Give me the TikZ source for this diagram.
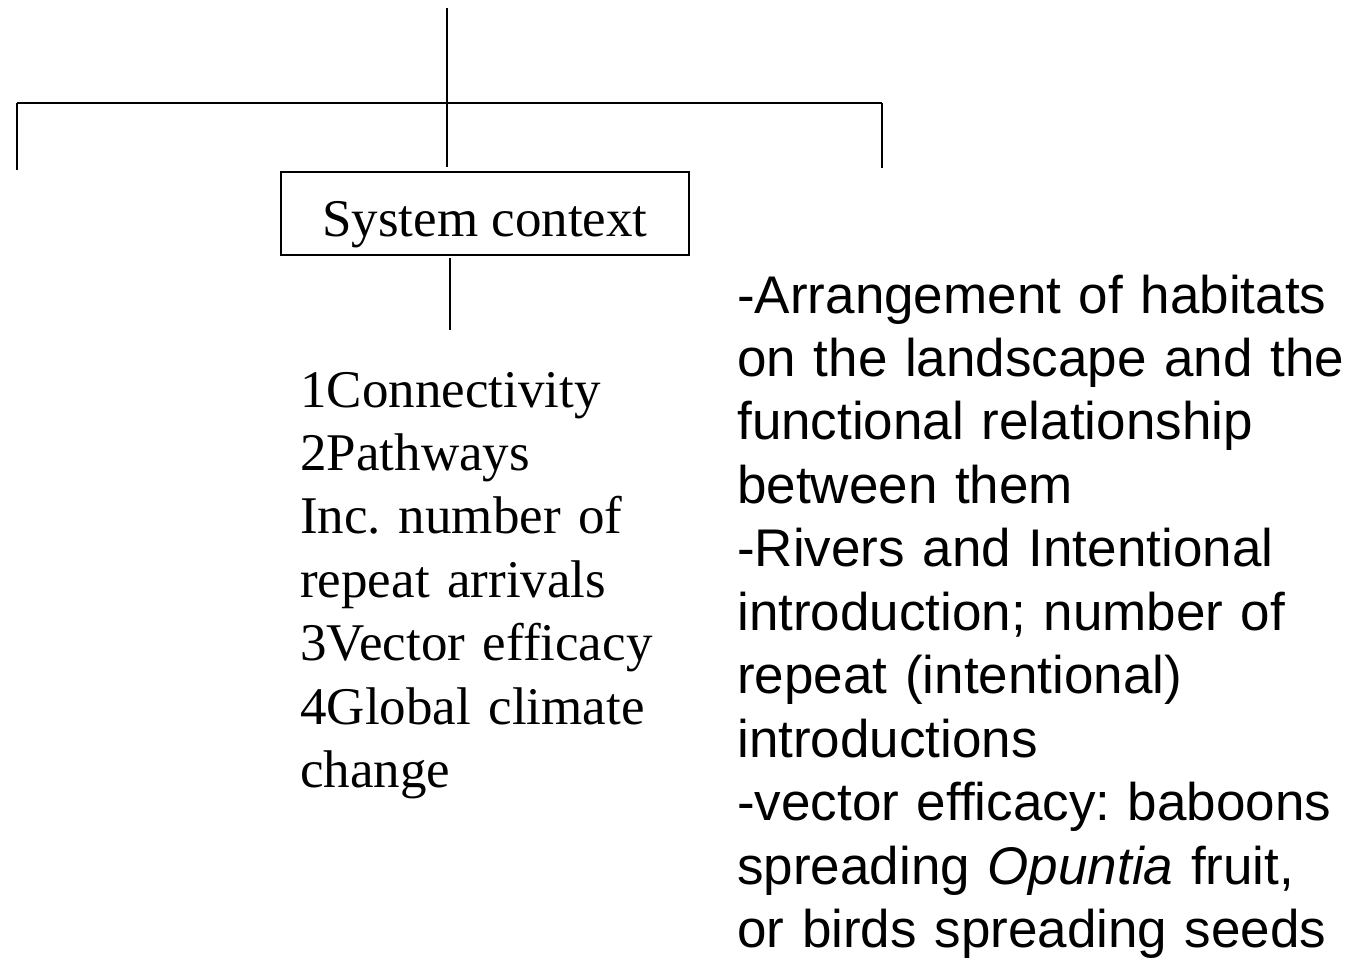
\documentclass[tikz,border=0pt]{standalone}
\usepackage{fontspec}
\setmainfont{Liberation Serif}
\setsansfont{Liberation Sans}
\frenchspacing
\begin{document}
\begin{tikzpicture}[x=0.75pt, y=-0.75pt,
    link/.style={line width=1pt},
    bar/.style={line width=1.6pt},
    ctxbox/.style={draw, line width=1pt, anchor=base, inner sep=0pt,
      minimum width=306pt, text height=48pt, text depth=14.25pt,
      font=\fontsize{39.75}{47.6}\selectfont},
    listtext/.style={anchor=base west, inner sep=0pt, text width=300pt,
      align=left, font=\fontsize{39.75}{47.6}\selectfont},
    notetext/.style={anchor=base west, inner sep=0pt, text width=460pt,
      align=left, font=\sffamily\fontsize{39.75}{47.6}\selectfont}]
  \useasboundingbox (0,0) rectangle (1349,964);
  % tree
  \coordinate (stem) at (447,8);
  \coordinate (hub) at (447,103);
  \coordinate (barl) at (17,103);
  \coordinate (barr) at (882,103);
  \coordinate (dropl) at (17,170);
  \coordinate (dropm) at (447,167);
  \coordinate (dropr) at (882,168);
  \draw[link] (stem) -- (hub);
  \draw[bar] (barl) -- (barr);
  \draw[link] (barl) -- (dropl);
  \draw[link] (hub) -- (dropm);
  \draw[link] (barr) -- (dropr);
  \node[ctxbox] (ctx) at (485,236) {System context};
  \coordinate (tailtop) at (450,258);
  \coordinate (tailend) at (450,330);
  \draw[link] (tailtop) -- (tailend);
  % texts
  \node[listtext] (list) at (300,407) {1Connectivity\\2Pathways\\Inc. number of\\repeat arrivals\\3Vector efficacy\\4Global climate\\change};
  \node[notetext] (notes) at (737,313) {-Arrangement of habitats\\on the landscape and the\\functional relationship\\between them\\-Rivers and Intentional\\introduction; number of\\repeat (intentional)\\introductions\\-vector efficacy: baboons\\spreading \textit{Opuntia} fruit,\\or birds spreading seeds};
\end{tikzpicture}
\end{document}
